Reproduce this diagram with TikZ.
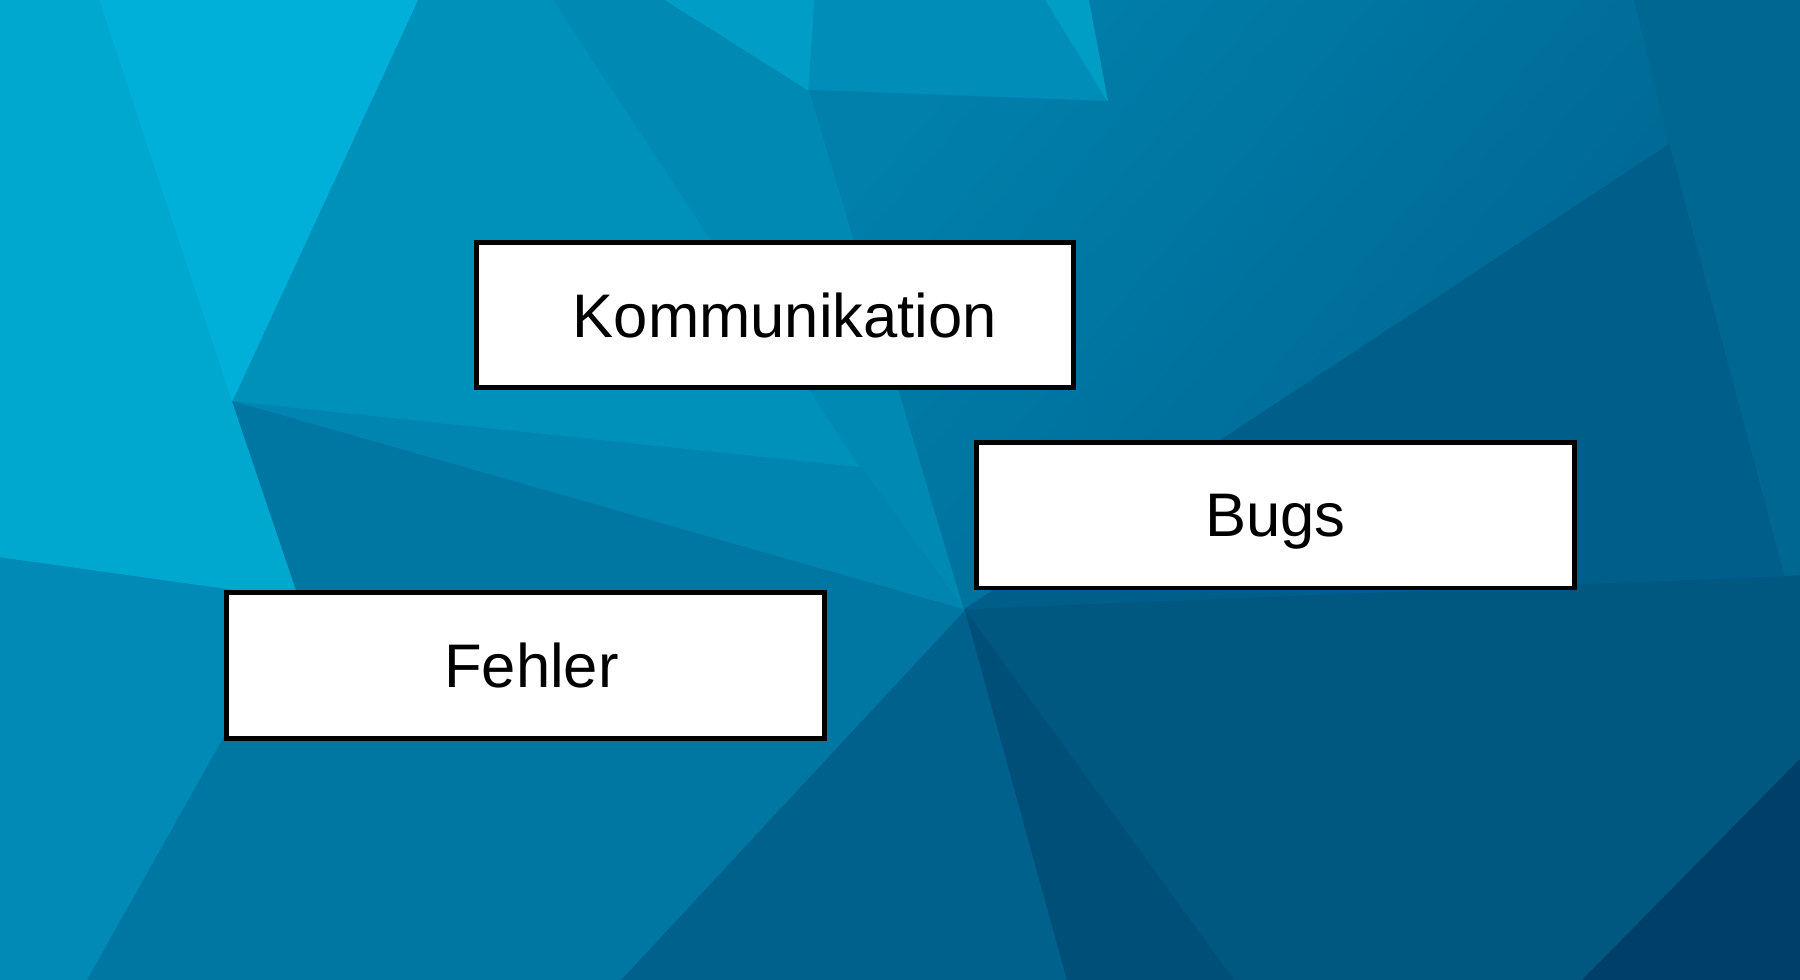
\documentclass[tikz,border=0pt]{standalone}
\definecolor{facetsky}{RGB}{0, 168, 208}
\definecolor{facetice}{RGB}{0, 176, 216}
\definecolor{facetsea}{RGB}{0, 145, 187}
\definecolor{facetbay}{RGB}{0, 133, 176}
\definecolor{facetlagoon}{RGB}{0, 137, 179}
\definecolor{facetfoam}{RGB}{0, 158, 198}
\definecolor{facetreef}{RGB}{0, 141, 184}
\definecolor{facetspray}{RGB}{0, 157, 197}
\definecolor{facettop}{RGB}{0, 128, 171}
\definecolor{facetlow}{RGB}{0, 100, 145}
\definecolor{facetrim}{RGB}{0, 103, 147}
\definecolor{facetdusk}{RGB}{0, 94, 138}
\definecolor{facetdeep}{RGB}{0, 87, 127}
\definecolor{facetnight}{RGB}{0, 63, 103}
\definecolor{facetshade}{RGB}{0, 79, 120}
\definecolor{facetstorm}{RGB}{0, 97, 141}
\definecolor{facetmid}{RGB}{0, 119, 163}
\definecolor{facetshore}{RGB}{0, 138, 181}
\usepackage{tikz}
\usepackage{fontspec}
\setmainfont{Liberation Sans}
\usetikzlibrary{positioning}

\begin{document}
\begin{tikzpicture}[x=0.01cm, y=-0.01cm,
    facet/.style={fill=#1, draw=#1, line width=0.4pt, line join=round},
    wordbox/.style={draw=black, line width=1.4pt, fill=white, minimum width=5.97cm,
      minimum height=1.45cm, inner sep=0pt, text depth=0pt,
      font=\fontsize{17.5}{21}\selectfont}]
  \useasboundingbox (0,0) rectangle (1800,980);

  % low-poly background
  \filldraw[facet=facetsky] (0,0) -- (100,0) -- (233,402) -- (300,600) -- (0,558) -- cycle;
  \filldraw[facet=facetice] (100,0) -- (419,0) -- (233,402) -- cycle;
  \filldraw[facet=facetsea] (419,0) -- (554,0) -- (861,468) -- (233,402) -- cycle;
  \filldraw[facet=facetlagoon] (554,0) -- (666,0) -- (809,90) -- (964,610) -- (861,468) -- cycle;
  \filldraw[facet=facetbay] (233,402) -- (861,468) -- (964,610) -- cycle;
  \filldraw[facet=facetfoam] (666,0) -- (815,0) -- (809,90) -- cycle;
  \filldraw[facet=facetreef] (815,0) -- (1046,0) -- (1108,101) -- (809,90) -- cycle;
  \filldraw[facet=facetspray] (1046,0) -- (1089,0) -- (1108,101) -- cycle;
  \shade[top color=facettop, bottom color=facetlow, shading angle=50]
    (809,90) -- (1108,101) -- (1089,0) -- (1635,0) -- (1669,145) -- (964,610) -- cycle;
  \filldraw[facet=facetrim] (1635,0) -- (1800,0) -- (1800,576) -- (1784,577) -- (1669,145) -- cycle;
  \filldraw[facet=facetdusk] (1669,145) -- (1784,577) -- (964,610) -- cycle;
  \filldraw[facet=facetdeep] (964,610) -- (1784,577) -- (1800,576) -- (1800,760) -- (1583,980) -- (1233,980) -- cycle;
  \filldraw[facet=facetnight] (1800,760) -- (1800,980) -- (1583,980) -- cycle;
  \filldraw[facet=facetshade] (964,610) -- (1233,980) -- (1066,980) -- cycle;
  \filldraw[facet=facetstorm] (964,610) -- (1066,980) -- (620,980) -- cycle;
  \filldraw[facet=facetmid] (233,402) -- (964,610) -- (620,980) -- (86,980) -- (300,600) -- cycle;
  \filldraw[facet=facetshore] (0,558) -- (300,600) -- (86,980) -- (0,980) -- cycle;

  % word boxes
  \node[wordbox] (komm) at (775,315) {\hspace*{0.2cm}Kommunikation};
  \node[wordbox] (bugs) at (1275.5,515.5) {Bugs};
  \node[wordbox] (fehler) at (525.5,665.5) {\hspace*{0.12cm}Fehler};
\end{tikzpicture}
\end{document}
